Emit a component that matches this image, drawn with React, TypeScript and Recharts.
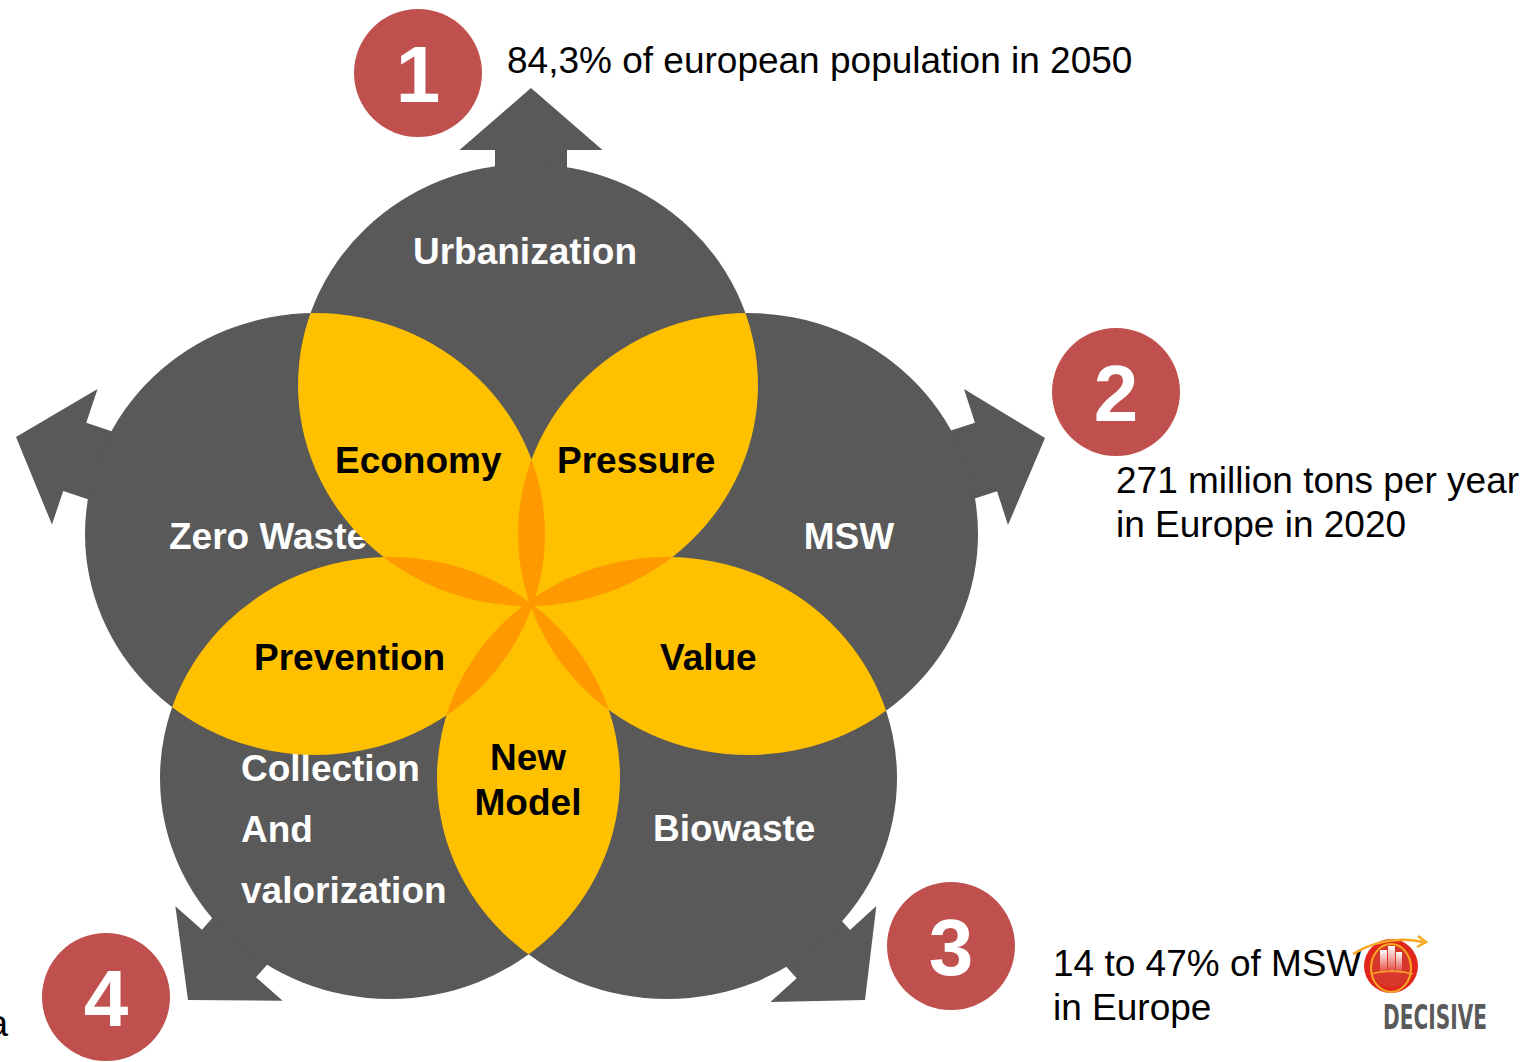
import React from 'react';
import { ScatterChart, Scatter, XAxis, YAxis } from 'recharts';

const W = 1537;
const H = 1062;
const FONT = "'Liberation Sans', Arial, sans-serif";
const GRAY = '#595959';
const YELLOW = '#FFC000';
const ORANGE = '#FF9900';
const RED = '#C0504D';

// petal radii (chart units = px here)
const RX = 230;
const RY = 221;

// circle centres of the five petals
const petals = [
  { name: 'top', x: 528, y: 385 },
  { name: 'right', x: 748, y: 534 },
  { name: 'bottomRight', x: 667, y: 778 },
  { name: 'bottomLeft', x: 390, y: 778 },
  { name: 'left', x: 315, y: 534 },
];

// overlaps of neighbouring petals, and of three in a row
const pairs = [
  ['left', 'top'],
  ['top', 'right'],
  ['right', 'bottomRight'],
  ['bottomRight', 'bottomLeft'],
  ['bottomLeft', 'left'],
];
const triples = [
  ['left', 'top', 'right'],
  ['top', 'right', 'bottomRight'],
  ['right', 'bottomRight', 'bottomLeft'],
  ['bottomRight', 'bottomLeft', 'left'],
  ['bottomLeft', 'left', 'top'],
];

// arrow tips and heading (degrees, screen)
const arrows = [
  { x: 531, y: 88, angle: -90 },
  { x: 1045, y: 438, angle: -17.9 },
  { x: 865, y: 1000, angle: 47.8 },
  { x: 188, y: 1000, angle: 131.4 },
  { x: 16, y: 437, angle: 198.6 },
];

const outerLabels = [
  { x: 525, y: 264, lines: ['Urbanization'], anchor: 'middle' },
  { x: 268, y: 549, lines: ['Zero Waste'], anchor: 'middle' },
  { x: 849, y: 549, lines: ['MSW'], anchor: 'middle' },
  { x: 241, y: 781, lines: ['Collection', 'And', 'valorization'], anchor: 'start' },
  { x: 653, y: 841, lines: ['Biowaste'], anchor: 'start' },
];

const innerLabels = [
  { x: 335, y: 473, lines: ['Economy'], anchor: 'start' },
  { x: 557, y: 473, lines: ['Pressure'], anchor: 'start' },
  { x: 254, y: 670, lines: ['Prevention'], anchor: 'start' },
  { x: 660, y: 670, lines: ['Value'], anchor: 'start' },
  { x: 528, y: 770, lines: ['New', 'Model'], anchor: 'middle' },
];

const badges = [
  { x: 418, y: 73, label: '1' },
  { x: 1116, y: 392, label: '2' },
  { x: 951, y: 946, label: '3' },
  { x: 106, y: 997, label: '4' },
];

const notes = [
  { x: 507, y: 73, lines: ['84,3% of european population in 2050'], anchor: 'start' },
  { x: 1116, y: 493, lines: ['271 million tons per year', 'in Europe in 2020'], anchor: 'start' },
  { x: 1053, y: 976, lines: ['14 to 47% of MSW', 'in Europe'], anchor: 'start' },
  { x: 8, y: 1036, lines: ['a'], anchor: 'end' },
];

const logo = [{ x: 1391, y: 966 }];

const byName: Record<string, { x: number; y: number }> = {};
petals.forEach((p) => (byName[p.name] = p));
const lensData = pairs.map(([a, b]) => ({ ...byName[a], clip: b }));
const tripleData = triples.map(([a, b, c]) => ({ ...byName[b], clip: a, clip2: c }));

const HEAD_W = 143;
const HEAD_L = 62;
const STEM_W = 72;
const STEM_L = 420;

function ArrowShape(props: any) {
  const { cx, cy, payload } = props;
  const hw = HEAD_W / 2;
  const sw = STEM_W / 2;
  const pts = [
    [0, 0],
    [-HEAD_L, -hw],
    [-HEAD_L, -sw],
    [-HEAD_L - STEM_L, -sw],
    [-HEAD_L - STEM_L, sw],
    [-HEAD_L, sw],
    [-HEAD_L, hw],
  ]
    .map((p) => p.join(','))
    .join(' ');
  return <polygon points={pts} fill={GRAY} transform={`translate(${cx},${cy}) rotate(${payload.angle})`} />;
}

function PetalShape(props: any) {
  return <ellipse cx={props.cx} cy={props.cy} rx={RX} ry={RY} fill={GRAY} />;
}

function ClipShape(props: any) {
  return (
    <clipPath id={`petal-${props.payload.name}`}>
      <ellipse cx={props.cx} cy={props.cy} rx={RX} ry={RY} />
    </clipPath>
  );
}

function LensShape(props: any) {
  return (
    <ellipse
      cx={props.cx}
      cy={props.cy}
      rx={RX}
      ry={RY}
      fill={YELLOW}
      clipPath={`url(#petal-${props.payload.clip})`}
    />
  );
}

function TripleShape(props: any) {
  return (
    <g clipPath={`url(#petal-${props.payload.clip2})`}>
      <ellipse
        cx={props.cx}
        cy={props.cy}
        rx={RX}
        ry={RY}
        fill={ORANGE}
        clipPath={`url(#petal-${props.payload.clip})`}
      />
    </g>
  );
}

function textShape(color: string, weight: string, lineGap: number) {
  return (props: any) => {
    const { cx, cy, payload } = props;
    return (
      <text
        x={cx}
        y={cy}
        fill={color}
        fontFamily={FONT}
        fontSize={37}
        fontWeight={weight}
        textAnchor={payload.anchor}
      >
        {payload.lines.map((l: string, i: number) => (
          <tspan key={i} x={cx} y={cy + i * lineGap}>
            {l}
          </tspan>
        ))}
      </text>
    );
  };
}

function BadgeShape(props: any) {
  const { cx, cy, payload } = props;
  return (
    <g>
      <circle cx={cx} cy={cy} r={64} fill={RED} />
      <text
        x={cx}
        y={cy + 29}
        fill="#fff"
        fontFamily={FONT}
        fontSize={80}
        fontWeight="bold"
        textAnchor="middle"
      >
        {payload.label}
      </text>
    </g>
  );
}

function LogoShape(props: any) {
  const { cx, cy } = props;
  return (
    <g>
      <defs>
        <linearGradient id="bldg" x1="0" y1="0" x2="0" y2="1">
          <stop offset="0" stopColor="#fff" />
          <stop offset="1" stopColor="#E23A2E" />
        </linearGradient>
      </defs>
      <circle cx={cx} cy={cy} r={27} fill="#E1261C" />
      <circle cx={cx} cy={cy} r={21} fill="#D8362A" />
      <rect x={cx - 11} y={cy - 16} width={7} height={24} fill="url(#bldg)" />
      <rect x={cx - 3} y={cy - 20} width={7} height={28} fill="url(#bldg)" />
      <rect x={cx + 5} y={cy - 14} width={6} height={22} fill="url(#bldg)" />
      <ellipse cx={cx} cy={cy + 2} rx={20} ry={24} fill="none" stroke="#F7A823" strokeWidth={2} />
      <path
        d={`M ${cx - 38} ${cy - 12} Q ${cx - 5} ${cy - 32} ${cx + 32} ${cy - 24}`}
        fill="none"
        stroke="#F7A823"
        strokeWidth={2.5}
      />
      <path d={`M ${cx + 27} ${cy - 30} L ${cx + 35} ${cy - 24} L ${cx + 26} ${cy - 19}`} fill="none" stroke="#F7A823" strokeWidth={2.5} />
      <path
        d={`M ${cx - 20} ${cy + 8} Q ${cx} ${cy + 2} ${cx + 22} ${cy + 8}`}
        fill="none"
        stroke="#F7A823"
        strokeWidth={1.5}
      />
      <text
        x={cx - 8}
        y={cy + 63}
        fill="#5A5A5A"
        fontFamily="'Liberation Sans Narrow', 'DejaVu Sans Condensed', Arial, sans-serif"
        fontSize={33}
        fontWeight="bold"
        textLength={104}
        lengthAdjust="spacingAndGlyphs"
      >
        DECISIVE
      </text>
    </g>
  );
}

export default function App() {
  return (
    <div style={{ position: 'absolute', left: 0, top: 0, width: W, height: H, background: '#fff' }}>
      <ScatterChart width={W} height={H} margin={{ top: 0, right: 0, bottom: 0, left: 0 }}>
        <XAxis type="number" dataKey="x" domain={[0, W]} hide />
        <YAxis type="number" dataKey="y" domain={[0, H]} reversed hide />
        <Scatter data={arrows} shape={ArrowShape} isAnimationActive={false} />
        <Scatter data={petals} shape={PetalShape} isAnimationActive={false} />
        <Scatter data={petals} shape={ClipShape} isAnimationActive={false} />
        <Scatter data={outerLabels} shape={textShape('#fff', 'bold', 61)} isAnimationActive={false} />
        <Scatter data={lensData} shape={LensShape} isAnimationActive={false} />
        <Scatter data={tripleData} shape={TripleShape} isAnimationActive={false} />
        <Scatter data={innerLabels} shape={textShape('#000', 'bold', 45)} isAnimationActive={false} />
        <Scatter data={badges} shape={BadgeShape} isAnimationActive={false} />
        <Scatter data={notes} shape={textShape('#000', 'normal', 44)} isAnimationActive={false} />
        <Scatter data={logo} shape={LogoShape} isAnimationActive={false} />
      </ScatterChart>
    </div>
  );
}
